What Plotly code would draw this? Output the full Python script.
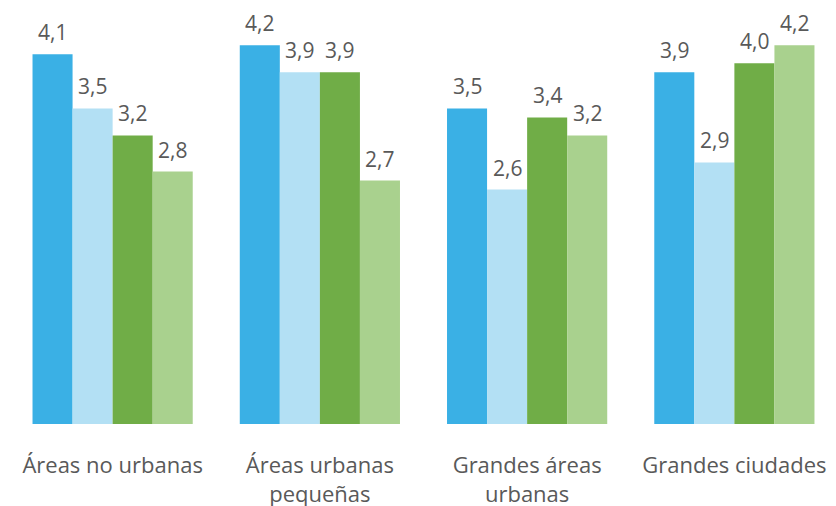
import plotly.graph_objects as go

categories = ["Áreas no urbanas", "Áreas urbanas<br>pequeñas", "Grandes áreas<br>urbanas", "Grandes ciudades"]
series_names = ["Serie 1", "Serie 2", "Serie 3", "Serie 4"]
serie1 = [4.1, 4.2, 3.5, 3.9]
serie2 = [3.5, 3.9, 2.6, 2.9]
serie3 = [3.2, 3.9, 3.4, 4.0]
serie4 = [2.8, 2.7, 3.2, 4.2]
colors = ["#3AB0E5", "#B3E0F4", "#70AD47", "#A9D18E"]

BARGAP = 0.227
all_series = [serie1, serie2, serie3, serie4]
n = len(all_series)
bw = (1 - BARGAP) / n

fig = go.Figure()
for name, vals, col in zip(series_names, all_series, colors):
    fig.add_trace(go.Bar(
        x=categories, y=vals, name=name,
        marker=dict(color=col, line=dict(width=0)),
        cliponaxis=False,
    ))

for si, vals in enumerate(all_series):
    for ci, v in enumerate(vals):
        fig.add_annotation(
            x=ci + (si - (n - 1) / 2) * bw, y=v, xref="x", yref="y",
            text=f"{v:.1f}".replace(".", ","),
            showarrow=False, yanchor="bottom", yshift=7, borderpad=0,
            font=dict(family="Open Sans", size=21, color="#595959"),
        )

fig.update_layout(
    width=836, height=506,
    margin=dict(l=1, r=6, t=3, b=90),
    barmode="group", bargap=BARGAP, bargroupgap=0,
    separators=",.",
    showlegend=False,
    plot_bgcolor="white", paper_bgcolor="white",
    font=dict(family="Open Sans", color="#595959", size=22),
)
fig.update_xaxes(showline=False, ticks="", automargin=False,
                 tickfont=dict(size=22, color="#595959"), ticklabelstandoff=26)
fig.update_yaxes(range=[0, 4.58], visible=False, showgrid=False, automargin=False)
fig.write_html("out.html")
